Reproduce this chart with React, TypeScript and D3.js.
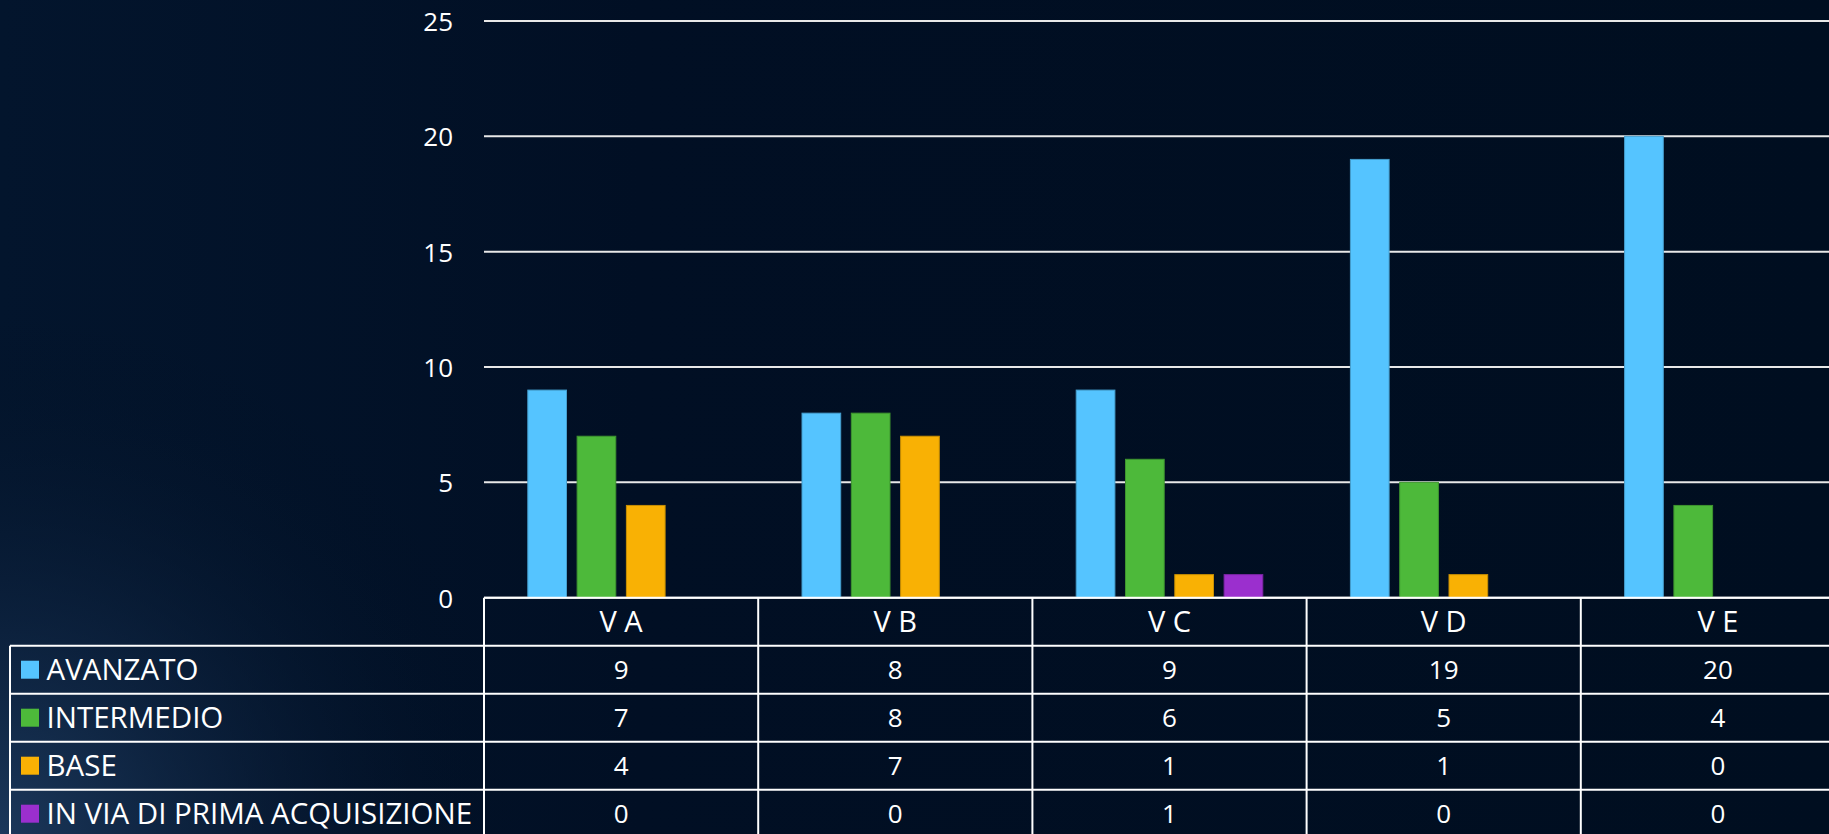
import React from "react";
import * as d3 from "d3";

const categories = ["V A", "V B", "V C", "V D", "V E"];
const seriesNames = ["AVANZATO", "INTERMEDIO", "BASE", "IN VIA DI PRIMA ACQUISIZIONE"];
const avanzato = [9, 8, 9, 19, 20];
const intermedio = [7, 8, 6, 5, 4];
const base = [4, 7, 1, 1, 0];
const inViaDiPrimaAcquisizione = [0, 0, 1, 0, 0];
const seriesColors = ["#55c4ff", "#4db93a", "#f9b104", "#9b2fce"];
const yTicks = [0, 5, 10, 15, 20, 25];

const seriesValues = [avanzato, intermedio, base, inViaDiPrimaAcquisizione];

const W = 1829;
const H = 834;
const plotLeft = 484;
const plotRight = 1855;
const y0 = 597.7;
const yTop = 21;
const rowH = 48;
const tableLeft = 10;
const FONT = "'Open Sans', 'DejaVu Sans', sans-serif";

export default function App() {
  const x0 = d3.scaleBand<string>().domain(categories).range([plotLeft, plotRight]).padding(0);
  const x1 = d3
    .scaleBand<string>()
    .domain(seriesNames)
    .range([43.8, x0.bandwidth() - 43.8])
    .paddingInner(0.215)
    .paddingOuter(0);
  const y = d3.scaleLinear().domain([0, 25]).range([y0, yTop]);

  const tableBottom = y0 + rowH * 5;
  const legendTop = y0 + rowH;
  const colEdges = categories.map((c) => x0(c) as number).concat([plotRight]);

  return (
    <svg
      width={W}
      height={H}
      style={{ position: "absolute", left: 0, top: 0, display: "block" }}
    >
      <defs>
        <radialGradient id="glow" cx="0" cy="834" r="520" gradientUnits="userSpaceOnUse">
          <stop offset="0" stopColor="#1d3a5e" stopOpacity="0.95" />
          <stop offset="0.45" stopColor="#0f2542" stopOpacity="0.6" />
          <stop offset="1" stopColor="#000e20" stopOpacity="0" />
        </radialGradient>
        <linearGradient id="bg" x1="0" y1="0" x2="1" y2="0">
          <stop offset="0" stopColor="#03152d" />
          <stop offset="0.35" stopColor="#010f24" />
          <stop offset="1" stopColor="#000e20" />
        </linearGradient>
      </defs>
      <rect x={0} y={0} width={W} height={H} fill="url(#bg)" />
      <rect x={0} y={0} width={W} height={H} fill="url(#glow)" />

      {/* gridlines */}
      <g>
        {yTicks.map((t) => (
          <line
            key={t}
            x1={plotLeft}
            x2={plotRight}
            y1={y(t)}
            y2={y(t)}
            stroke="#e8e8e8"
            strokeWidth={2}
          />
        ))}
      </g>

      {/* y tick labels */}
      <g fontFamily={FONT} fontSize={26} fill="#ffffff" textAnchor="end">
        {yTicks.map((t) => (
          <text key={t} x={453} y={y(t) + 10}>
            {t}
          </text>
        ))}
      </g>

      {/* bars */}
      <g>
        {categories.map((c, ci) => (
          <g key={c} transform={`translate(${x0(c)},0)`}>
            {seriesNames.map((s, si) => {
              const v = seriesValues[si][ci];
              if (v <= 0) return null;
              const col = seriesColors[si];
              return (
                <rect
                  key={s}
                  x={x1(s)}
                  y={y(v)}
                  width={x1.bandwidth()}
                  height={y(0) - y(v)}
                  fill={col}
                  stroke={d3.color(col)!.darker(0.6).formatHex()}
                  strokeWidth={1}
                />
              );
            })}
          </g>
        ))}
      </g>

      {/* data table */}
      <g stroke="#ffffff" strokeWidth={2} fill="none">
        {/* header row top + bottom lines for category columns */}
        <line x1={plotLeft} x2={plotRight} y1={y0} y2={y0} />
        {d3.range(1, 6).map((i) => (
          <line
            key={i}
            x1={tableLeft}
            x2={plotRight}
            y1={y0 + rowH * i}
            y2={y0 + rowH * i}
          />
        ))}
        <line x1={tableLeft} x2={tableLeft} y1={legendTop} y2={tableBottom} />
        {colEdges.map((xe, i) => (
          <line key={i} x1={xe} x2={xe} y1={y0} y2={tableBottom} />
        ))}
      </g>

      {/* header labels */}
      <g fontFamily={FONT} fontSize={29} fill="#ffffff" textAnchor="middle">
        {categories.map((c) => (
          <text key={c} x={(x0(c) as number) + x0.bandwidth() / 2} y={y0 + rowH / 2 + 10}>
            {c}
          </text>
        ))}
      </g>

      {/* legend rows */}
      <g fontFamily={FONT} fontSize={29.5} fill="#ffffff">
        {seriesNames.map((s, si) => {
          const cy = legendTop + rowH * si + rowH / 2;
          return (
            <g key={s}>
              <rect x={21} y={cy - 9} width={18} height={18} fill={seriesColors[si]} />
              <text x={46.5} y={cy + 10.5}>
                {s}
              </text>
            </g>
          );
        })}
      </g>

      {/* values */}
      <g fontFamily={FONT} fontSize={26} fill="#ffffff" textAnchor="middle">
        {seriesNames.map((s, si) =>
          categories.map((c, ci) => (
            <text
              key={s + c}
              x={(x0(c) as number) + x0.bandwidth() / 2}
              y={legendTop + rowH * si + rowH / 2 + 9}
            >
              {seriesValues[si][ci]}
            </text>
          ))
        )}
      </g>
    </svg>
  );
}
